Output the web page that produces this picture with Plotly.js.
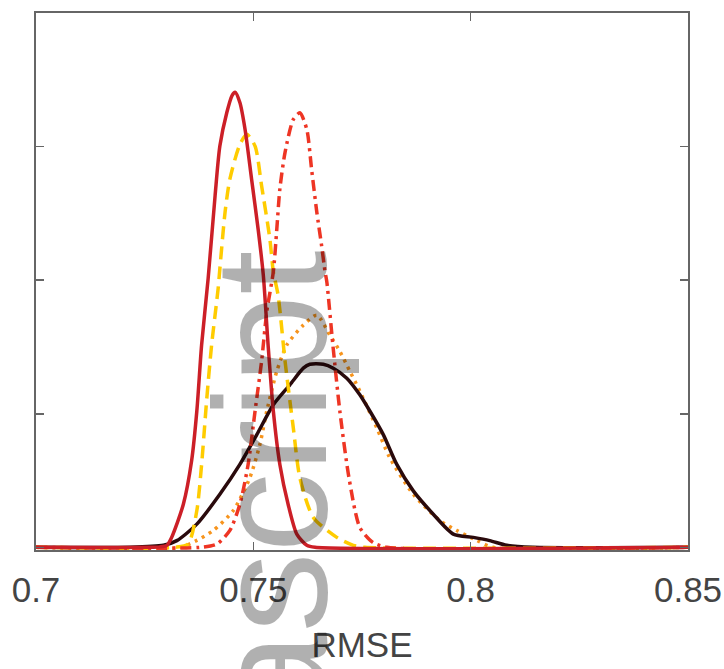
<!DOCTYPE html>
<html>
<head>
<meta charset="utf-8">
<script src="https://cdn.plot.ly/plotly-3.0.1.min.js"></script>
<style>html,body{margin:0;padding:0;background:#fff;}#chart{width:724px;height:669px;}</style>
</head>
<body>
<div id="chart"></div>
<script>
// Density curves of RMSE (y in arbitrary density units, tick step 20)
const solidRedX = [0.700, 0.7262, 0.7285, 0.7301, 0.7312, 0.7339, 0.7358, 0.7370, 0.7381, 0.7396, 0.7412, 0.7423, 0.7439, 0.7451, 0.7458, 0.7469, 0.7481, 0.7496, 0.7511, 0.7523, 0.7534, 0.7546, 0.7561, 0.7580, 0.7600, 0.7623, 0.7642, 0.850];
const solidRedY = [0, 0, 0.07, 0.3, 1.49, 6.45, 12.96, 20.41, 30.29, 40.22, 52.63, 60.08, 65.10, 67.64, 68.13, 66.59, 62.57, 55.12, 47.67, 40.72, 30.29, 20.41, 12.41, 6.45, 1.98, 0.3, 0, 0];

const dashedYellowX = [0.700, 0.7320, 0.7350, 0.7370, 0.7381, 0.7393, 0.7404, 0.7419, 0.7423, 0.7435, 0.7446, 0.7469, 0.7485, 0.7504, 0.7519, 0.7538, 0.7546, 0.7557, 0.7573, 0.7592, 0.7607, 0.7638, 0.7692, 0.7730, 0.7757, 0.850];
const dashedYellowY = [0, 0, 0.49, 5.51, 12.41, 22.35, 30.29, 38.73, 41.71, 50.21, 55.12, 60.3, 61.83, 60.08, 54.13, 46.18, 41.27, 37.74, 27.86, 17.88, 10.43, 4.47, 1.49, 0.3, 0, 0];

const dashDotX = [0.700, 0.7377, 0.7416, 0.7446, 0.7469, 0.7488, 0.7504, 0.7519, 0.7531, 0.7546, 0.7554, 0.7561, 0.7573, 0.7592, 0.7607, 0.7623, 0.7634, 0.7646, 0.7657, 0.7665, 0.7669, 0.7683, 0.7699, 0.7720, 0.7745, 0.7775, 0.7807, 0.850];
const dashDotY = [0, 0, 0.49, 2.53, 6.45, 12.41, 20.41, 27.86, 35.31, 41.27, 47.67, 53.63, 59.14, 64.06, 65.06, 62.57, 56.61, 50.21, 45.19, 41.27, 39.78, 30.29, 20.41, 10.43, 2.98, 0.74, 0, 0];

const dottedX = [0.700, 0.7331, 0.7370, 0.7408, 0.7454, 0.7492, 0.7515, 0.7531, 0.7554, 0.7577, 0.7615, 0.7646, 0.7676, 0.7699, 0.7722, 0.7745, 0.7784, 0.7814, 0.7868, 0.7929, 0.7968, 0.8014, 0.8051, 0.850];
const dottedY = [0, 0, 1.04, 2.53, 5.51, 10.43, 15.39, 20.41, 26.37, 30.29, 33.27, 34.76, 31.78, 29.35, 26.37, 23.39, 17.88, 13.41, 7.94, 4.02, 2.53, 1.04, 0, 0];

const blackX = [0.700, 0.7216, 0.7293, 0.7324, 0.7370, 0.7423, 0.7469, 0.7508, 0.7546, 0.7584, 0.7615, 0.7630, 0.7661, 0.7684, 0.7715, 0.7745, 0.7768, 0.7799, 0.7830, 0.7868, 0.7914, 0.7960, 0.8006, 0.8044, 0.8083, 0.8143, 0.850];
const blackY = [0, 0, 0.3, 1.0, 3.47, 7.94, 12.41, 16.88, 21.35, 24.33, 26.82, 27.41, 27.41, 26.82, 25.33, 22.84, 20.41, 16.88, 12.41, 8.45, 4.96, 1.98, 1.49, 1.0, 0.3, 0, 0];

const xTickVals = [0.7, 0.75, 0.8, 0.85];
const xTickText = ['0.7', '0.75', '0.8', '0.85'];
const yTickVals = [0, 20, 40, 60, 80];

const FONT = '"Liberation Sans", Arial, Helvetica, sans-serif';

function tr(x, y, color, dash) {
  return {x: x, y: y, type: 'scatter', mode: 'lines', hoverinfo: 'skip',
    line: {color: color, width: 3.5, dash: dash, shape: 'spline', smoothing: 0.7}};
}

const data = [
  tr(dottedX, dottedY, '#F7941D', '3px,5px'),
  tr(blackX, blackY, '#2A0A0C', 'solid'),
  tr(dashedYellowX, dashedYellowY, '#FFCC00', '13px,7px'),
  tr(dashDotX, dashDotY, '#EE3524', '11px,5px,3px,5px'),
  tr(solidRedX, solidRedY, '#CC1F27', 'solid')
];

const axisColor = '#666666';
const layout = {
  width: 724, height: 669,
  margin: {l: 36, r: 36, t: 13, b: 119},
  paper_bgcolor: '#ffffff', plot_bgcolor: '#ffffff',
  showlegend: false,
  font: {family: FONT, color: '#444444'},
  xaxis: {
    range: [0.7, 0.85], tickvals: xTickVals, ticktext: xTickText,
    ticks: 'inside', ticklen: 8, tickwidth: 1.5, tickcolor: axisColor,
    showline: true, linecolor: axisColor, linewidth: 2, mirror: 'ticks',
    showgrid: false, zeroline: false, ticklabelstandoff: 8,
    tickfont: {size: 35, color: '#444444', family: FONT},
    title: {text: 'RMSE', font: {size: 35, color: '#444444', family: FONT}, standoff: 24}
  },
  yaxis: {
    range: [-0.4, 80], tickvals: yTickVals,
    ticks: 'inside', ticklen: 8, tickwidth: 1.5, tickcolor: axisColor,
    showline: true, linecolor: axisColor, linewidth: 2, mirror: 'ticks',
    showgrid: false, zeroline: false, showticklabels: false
  },
  annotations: [{
    text: 'javascript', textangle: -90,
    xref: 'paper', yref: 'paper', x: 0.359, y: -0.0745,
    xanchor: 'center', yanchor: 'middle', showarrow: false,
    font: {family: FONT, size: 160, color: 'rgba(0,0,0,0.31)'}
  }]
};

Plotly.newPlot('chart', data, layout, {staticPlot: true, displayModeBar: false});
</script>
</body>
</html>
